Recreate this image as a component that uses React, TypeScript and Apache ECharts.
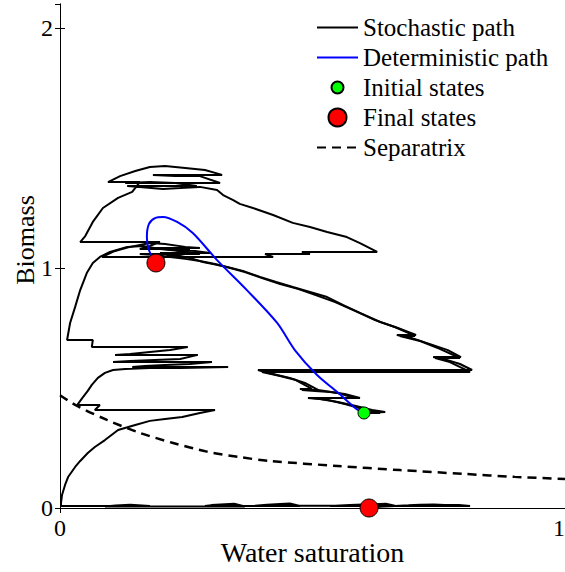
import React, { useEffect, useRef } from 'react';
import * as echarts from 'echarts';

const FONT = 'Liberation Serif, DejaVu Serif, Times New Roman, serif';

// Stochastic path ending at the upper final state
const stochasticPathA: [number, number][] = [
  [0.602,0.396],[0.644,0.400],[0.618,0.408],[0.586,0.425],[0.550,0.442],[0.515,0.454],[0.491,0.458],[0.594,0.458],
  [0.564,0.475],[0.535,0.483],[0.505,0.488],[0.479,0.492],[0.511,0.492],[0.485,0.521],[0.455,0.542],[0.430,0.554],
  [0.406,0.567],[0.392,0.575],[0.816,0.575],[0.792,0.600],[0.766,0.617],[0.739,0.629],[0.794,0.629],[0.768,0.658],
  [0.733,0.683],[0.697,0.708],[0.667,0.721],[0.705,0.721],[0.669,0.750],[0.634,0.775],[0.594,0.813],[0.560,0.846],
  [0.529,0.879],[0.495,0.900],[0.461,0.921],[0.428,0.942],[0.396,0.963],[0.362,0.988],[0.331,1.004],[0.303,1.017],
  [0.283,1.025],[0.257,1.042],[0.228,1.054],[0.198,1.063],[0.297,1.063],[0.267,1.071],[0.228,1.075],[0.182,1.083],
  [0.277,1.083],[0.248,1.088],[0.208,1.100],[0.178,1.104],[0.139,1.088],[0.109,1.071],[0.083,1.046],[0.422,1.046],
  [0.406,1.058],[0.495,1.058],[0.479,1.067],[0.628,1.067],[0.594,1.104],[0.568,1.129],[0.529,1.150],[0.495,1.171],
  [0.461,1.188],[0.422,1.221],[0.382,1.250],[0.356,1.267],[0.343,1.283],[0.323,1.304],[0.311,1.325],[0.277,1.338],
  [0.238,1.333],[0.204,1.329],[0.158,1.338],[0.133,1.342],[0.271,1.342],[0.228,1.354],[0.178,1.358],[0.129,1.354],
  [0.317,1.354],[0.277,1.383],[0.228,1.383],[0.184,1.388],[0.321,1.388],[0.287,1.408],[0.248,1.417],[0.208,1.425],
  [0.178,1.421],[0.149,1.404],[0.119,1.383],[0.095,1.358],[0.158,1.358],[0.143,1.317],[0.115,1.292],[0.085,1.250],
  [0.065,1.192],[0.050,1.133],[0.040,1.108],[0.198,1.108],[0.178,1.092],[0.158,1.079],[0.257,1.079],[0.228,1.063],
  [0.208,1.046],[0.190,1.021],
];

// Stochastic path ending at the lower final state
const stochasticPathB: [number, number][] = [
  [0.602,0.396],[0.634,0.396],[0.598,0.413],[0.564,0.433],[0.531,0.450],[0.499,0.458],[0.584,0.458],[0.550,0.479],
  [0.511,0.492],[0.475,0.496],[0.499,0.496],[0.467,0.533],[0.436,0.550],[0.400,0.567],[0.812,0.567],[0.772,0.608],
  [0.743,0.625],[0.792,0.625],[0.752,0.663],[0.713,0.696],[0.673,0.717],[0.703,0.717],[0.663,0.754],[0.624,0.783],
  [0.584,0.821],[0.545,0.858],[0.505,0.888],[0.471,0.913],[0.436,0.933],[0.400,0.958],[0.366,0.983],[0.337,1.000],
  [0.307,1.017],[0.277,1.029],[0.248,1.038],[0.218,1.046],[0.188,1.054],[0.158,1.058],[0.277,1.058],[0.238,1.071],
  [0.198,1.079],[0.164,1.092],[0.133,1.088],[0.099,1.067],[0.079,1.046],[0.065,1.021],[0.053,0.979],[0.040,0.908],
  [0.030,0.838],[0.020,0.771],[0.014,0.700],[0.065,0.700],[0.063,0.671],[0.253,0.671],[0.218,0.658],[0.178,0.650],
  [0.139,0.642],[0.109,0.638],[0.273,0.638],[0.238,0.621],[0.188,0.617],[0.139,0.613],[0.105,0.608],[0.301,0.608],
  [0.257,0.600],[0.208,0.596],[0.168,0.592],[0.143,0.588],[0.333,0.588],[0.287,0.585],[0.238,0.583],[0.178,0.583],
  [0.129,0.579],[0.105,0.575],[0.089,0.563],[0.075,0.542],[0.063,0.513],[0.055,0.488],[0.044,0.458],[0.034,0.429],
  [0.079,0.429],[0.069,0.408],[0.307,0.408],[0.277,0.396],[0.242,0.379],[0.208,0.371],[0.178,0.363],[0.149,0.346],
  [0.115,0.325],[0.089,0.283],[0.069,0.254],[0.055,0.229],[0.040,0.196],[0.030,0.171],[0.016,0.129],[0.010,0.096],
  [0.004,0.054],[0.002,0.021],[0.002,0.008],[0.178,0.008],[0.139,0.014],[0.110,0.010],[0.089,0.006],[0.366,0.006],
  [0.345,0.018],[0.327,0.016],[0.300,0.012],[0.287,0.008],[0.475,0.008],[0.455,0.019],[0.436,0.017],[0.410,0.014],
  [0.386,0.009],[0.663,0.009],[0.645,0.018],[0.624,0.016],[0.600,0.015],[0.574,0.013],[0.535,0.008],[0.812,0.008],
  [0.790,0.013],[0.762,0.012],[0.740,0.015],[0.713,0.014],[0.690,0.011],[0.663,0.008],[0.640,0.006],[0.612,0.002],
];

const deterministicPath: [number, number][] = [
  [0.602,0.396],[0.590,0.408],[0.549,0.483],[0.509,0.554],[0.465,0.658],[0.430,0.771],[0.370,0.908],[0.311,1.033],
  [0.263,1.146],[0.232,1.192],[0.204,1.213],[0.188,1.208],[0.176,1.183],[0.172,1.129],[0.176,1.075],[0.190,1.021],
];

const separatrix: [number, number][] = [
  [0,0.470],[0.034,0.425],[0.093,0.367],[0.158,0.313],[0.224,0.271],[0.291,0.235],[0.356,0.212],
  [0.416,0.196],[0.55,0.175],[0.673,0.158],[0.8,0.142],[0.9,0.130],[1.0,0.121],
];

const initialStates: [number, number][] = [[0.602, 0.396]];
const finalStates: [number, number][] = [[0.190, 1.021], [0.612, 0.0]];

const xTitle = 'Water saturation';
const yTitle = 'Biomass';

export default function App() {
  const ref = useRef<HTMLDivElement>(null);
  useEffect(() => {
    const chart = echarts.init(ref.current!, null, { renderer: 'svg' });
    const axisCommon = {
      axisLine: { show: true, lineStyle: { color: '#000', width: 1 } },
      axisTick: { show: true, inside: true, length: 5, lineStyle: { color: '#000' } },
      splitLine: { show: false },
    };
    const labelStyle = { fontFamily: FONT, fontSize: 24, color: '#000' };
    const hideSymbol = { opacity: 0 };
    chart.setOption({
      animation: false,
      backgroundColor: '#fff',
      textStyle: { fontFamily: FONT },
      grid: { left: 60, top: 4, right: 0, bottom: 64, outerBoundsMode: 'none', containLabel: false },
      xAxis: [
        {
          type: 'value', min: 0, max: 1, interval: 1, position: 'bottom',
          ...axisCommon,
          axisLabel: { ...labelStyle, margin: 8, alignMaxLabel: 'right' },
          name: xTitle, nameLocation: 'middle', nameGap: 30, nameMoveOverlap: false,
          nameTextStyle: { fontFamily: FONT, fontSize: 28, color: '#000' },
        },
        {
          type: 'value', min: 0, max: 1, interval: 1, position: 'top',
          ...axisCommon, axisLabel: { show: false },
        },
      ],
      yAxis: [
        {
          type: 'value', min: 0, max: 2.1, interval: 1, position: 'left',
          ...axisCommon,
          axisLabel: { ...labelStyle, margin: 7, showMaxLabel: false },
          name: yTitle, nameLocation: 'middle', nameGap: 22, nameMoveOverlap: false,
          nameTextStyle: { fontFamily: FONT, fontSize: 26, color: '#000', padding: [0, 0, 0, 32] },
        },
        {
          type: 'value', min: 0, max: 2.1, interval: 1, position: 'right',
          ...axisCommon, axisLabel: { show: false },
        },
      ],
      legend: {
        orient: 'vertical', left: 311, top: 10, itemWidth: 41, itemHeight: 18, itemGap: 5,
        selectedMode: false,
        textStyle: { fontFamily: FONT, fontSize: 25, color: '#000' },
        data: [
          { name: 'Stochastic path', itemStyle: hideSymbol },
          { name: 'Deterministic path', itemStyle: hideSymbol },
          { name: 'Initial states', icon: 'path://M0,0M18,18M3,9a6,6 0 1,0 12,0a6,6 0 1,0 -12,0z' },
          { name: 'Final states', icon: 'circle' },
          { name: 'Separatrix', itemStyle: hideSymbol },
        ],
      },
      series: [
        {
          name: 'Stochastic path', type: 'line', data: stochasticPathA, symbol: 'none', showSymbol: false,
          lineStyle: { color: '#000', width: 2 }, itemStyle: { color: '#000' }, z: 2,
        },
        {
          name: 'Stochastic path', type: 'line', data: stochasticPathB, symbol: 'none', showSymbol: false,
          lineStyle: { color: '#000', width: 2 }, itemStyle: { color: '#000' }, z: 2,
        },
        {
          name: 'Deterministic path', type: 'line', data: deterministicPath, symbol: 'none', showSymbol: false,
          smooth: 0.3, lineStyle: { color: '#0000ff', width: 2 }, itemStyle: { color: '#0000ff' }, z: 3,
        },
        {
          name: 'Separatrix', type: 'line', data: separatrix, symbol: 'none', showSymbol: false, smooth: 0.3,
          lineStyle: { color: '#000', width: 2.5, type: [9, 6] }, itemStyle: { color: '#000' }, z: 2,
        },
        {
          name: 'Initial states', type: 'scatter', data: initialStates, symbolSize: 12, clip: false,
          itemStyle: { color: '#00ff00', borderColor: '#000', borderWidth: 1, opacity: 1 }, z: 5,
        },
        {
          name: 'Final states', type: 'scatter', data: finalStates, symbolSize: 18, clip: false,
          itemStyle: { color: '#ff0000', borderColor: '#000', borderWidth: 1, opacity: 1 }, z: 5,
        },
      ],
    });
    return () => chart.dispose();
  }, []);
  return (
    <div
      ref={ref}
      style={{ position: 'absolute', left: 0, top: 0, width: 565, height: 572, background: '#fff' }}
    />
  );
}
